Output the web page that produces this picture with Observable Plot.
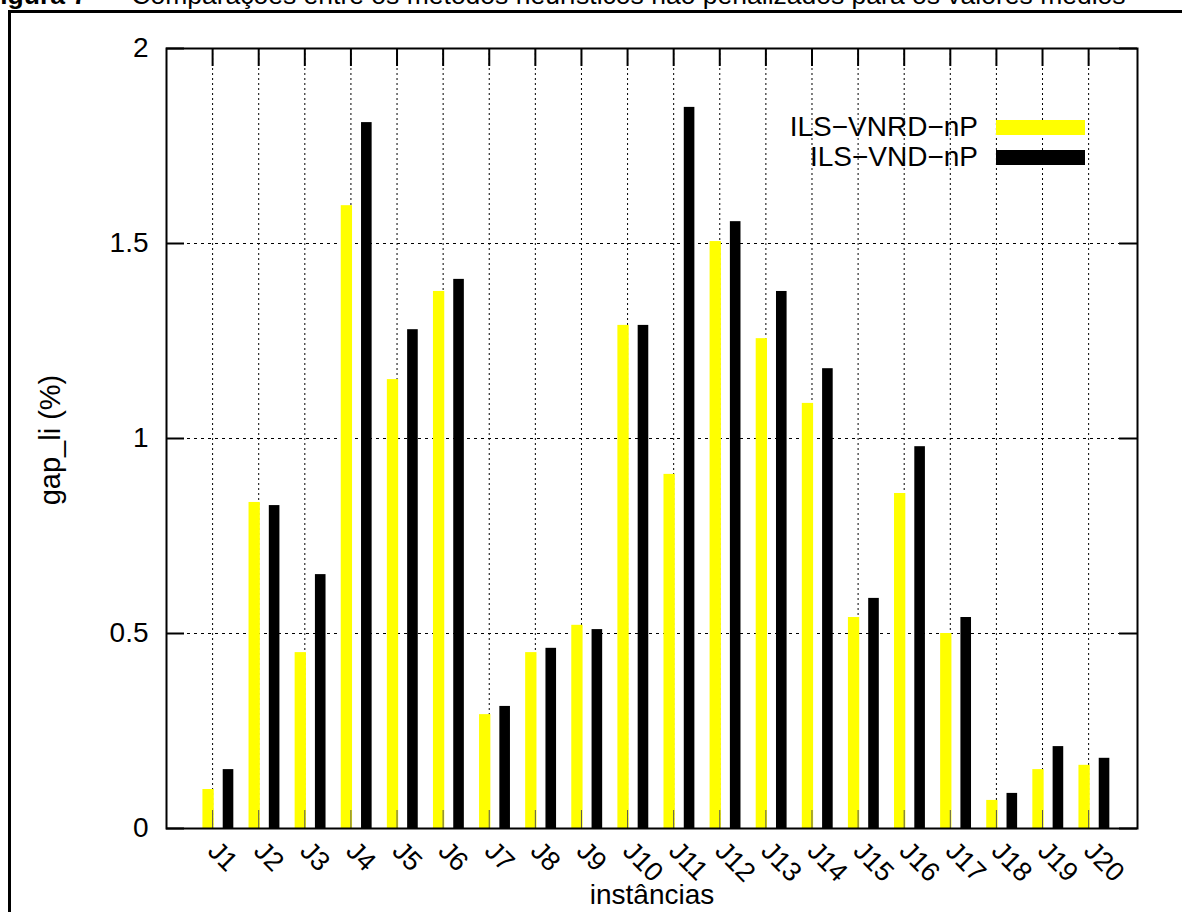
<!DOCTYPE html>
<html>
<head>
<meta charset="utf-8">
<script src="https://cdn.jsdelivr.net/npm/d3@7"></script>
<script src="https://cdn.jsdelivr.net/npm/@observablehq/plot@0.6"></script>
<style>
  html, body { margin: 0; padding: 0; background: #fff; }
  body { font-family: "Liberation Sans", Arial, Helvetica, sans-serif; }
  #wrap { position: relative; width: 1182px; height: 912px; overflow: hidden; }
  #title { position: absolute; left: -16px; top: -18px; font-size: 26.5px; line-height: 26px; white-space: nowrap; color: #000; }
  #box { position: absolute; left: 8px; top: 10px; width: 1300px; height: 1000px; border: 3px solid #000; box-sizing: border-box; }
  #chart { position: absolute; left: 0; top: 0; }
  .leg { position: absolute; font-size: 28px; line-height: 30px; color: #000; white-space: nowrap; }
  .sw { position: absolute; width: 89px; height: 15px; }
  #ylab { position: absolute; left: 50px; top: 440px; transform: translate(-50%, -50%) rotate(-90deg); font-size: 29px; white-space: nowrap; color: #000; }
</style>
</head>
<body>
<div id="wrap">
  <div id="title"><b>Figura 7</b>&nbsp; –&nbsp; Comparações entre os métodos heurísticos não penalizados para os valores médios</div>
  <div id="box"></div>
  <div id="chart"></div>
  <div id="ylab">gap_li (%)</div>
  <div class="leg" style="right:204px; top:112px;">ILS−VNRD−nP</div>
  <div class="sw" style="left:996px; top:120px; background:#ffff00;"></div>
  <div class="leg" style="right:204px; top:142px;">ILS−VND−nP</div>
  <div class="sw" style="left:996px; top:150px; background:#000;"></div>
</div>
<script>
const categories = ["J1","J2","J3","J4","J5","J6","J7","J8","J9","J10","J11","J12","J13","J14","J15","J16","J17","J18","J19","J20"];
const vnrd = [0.10, 0.836, 0.451, 1.597, 1.151, 1.377, 0.292, 0.451, 0.521, 1.29, 0.908, 1.505, 1.256, 1.09, 0.541, 0.859, 0.50, 0.072, 0.151, 0.162];
const vnd  = [0.151, 0.828, 0.651, 1.81, 1.279, 1.408, 0.313, 0.462, 0.51, 1.29, 1.849, 1.556, 1.377, 1.179, 0.59, 0.979, 0.541, 0.09, 0.21, 0.18];
const yTicks = [0, 0.5, 1, 1.5, 2];
const seriesNames = ["ILS-VNRD-nP", "ILS-VND-nP"];

const data = categories.map((c, i) => ({cat: c, i: i + 1, a: vnrd[i], b: vnd[i]}));
const xTicks = data.map(d => d.i);

const xMax = 21.06, yMax = 2;
// inward tick length in data units (about 18px)
const tickX = 18 / (971 / xMax);
const tickY = 18 / (780 / yMax);

const font = "Liberation Sans, Arial, Helvetica, sans-serif";

const chart = Plot.plot({
  width: 1182,
  height: 912,
  marginLeft: 166,
  marginTop: 48,
  marginRight: 45,
  marginBottom: 84,
  style: {fontFamily: font, fontSize: "28px", color: "#000", background: "transparent"},
  x: {domain: [0, xMax], axis: null},
  y: {domain: [0, yMax], axis: null},
  marks: [
    Plot.ruleX(xTicks, {stroke: "#000", strokeWidth: 1, strokeDasharray: "2,3"}),
    Plot.ruleY([0.5, 1, 1.5], {stroke: "#000", strokeWidth: 1, strokeDasharray: "3,4"}),
    Plot.rectY(data, {x1: d => d.i - 0.21, x2: d => d.i + 0.035, y: "a", fill: "#ffff00"}),
    Plot.rectY(data, {x1: d => d.i + 0.23, x2: d => d.i + 0.46, y: "b", fill: "#000"}),
    Plot.ruleX(xTicks, {y1: 0, y2: tickY, stroke: "#555", strokeWidth: 1}),
    Plot.ruleX(xTicks, {y1: yMax - tickY, y2: yMax, stroke: "#000", strokeWidth: 2}),
    Plot.ruleY(yTicks, {x1: 0, x2: tickX, stroke: "#000", strokeWidth: 2}),
    Plot.ruleY(yTicks, {x1: xMax - tickX, x2: xMax, stroke: "#000", strokeWidth: 2}),
    Plot.axisY({anchor: "left", ticks: yTicks, tickSize: 0, tickPadding: 18, tickFormat: d => String(d), fontSize: 28, fill: "#000", label: null}),
    Plot.frame({stroke: "#000", strokeWidth: 2}),
    Plot.text(data, {x: "i", text: "cat", frameAnchor: "bottom", rotate: 45, textAnchor: "start", lineAnchor: "middle", dx: 0, dy: 18, fontSize: 27, fill: "#000"}),
    Plot.text(["instâncias"], {frameAnchor: "bottom", dy: 75, fontSize: 28, fill: "#000"})
  ]
});
document.getElementById("chart").appendChild(chart);
</script>
</body>
</html>
